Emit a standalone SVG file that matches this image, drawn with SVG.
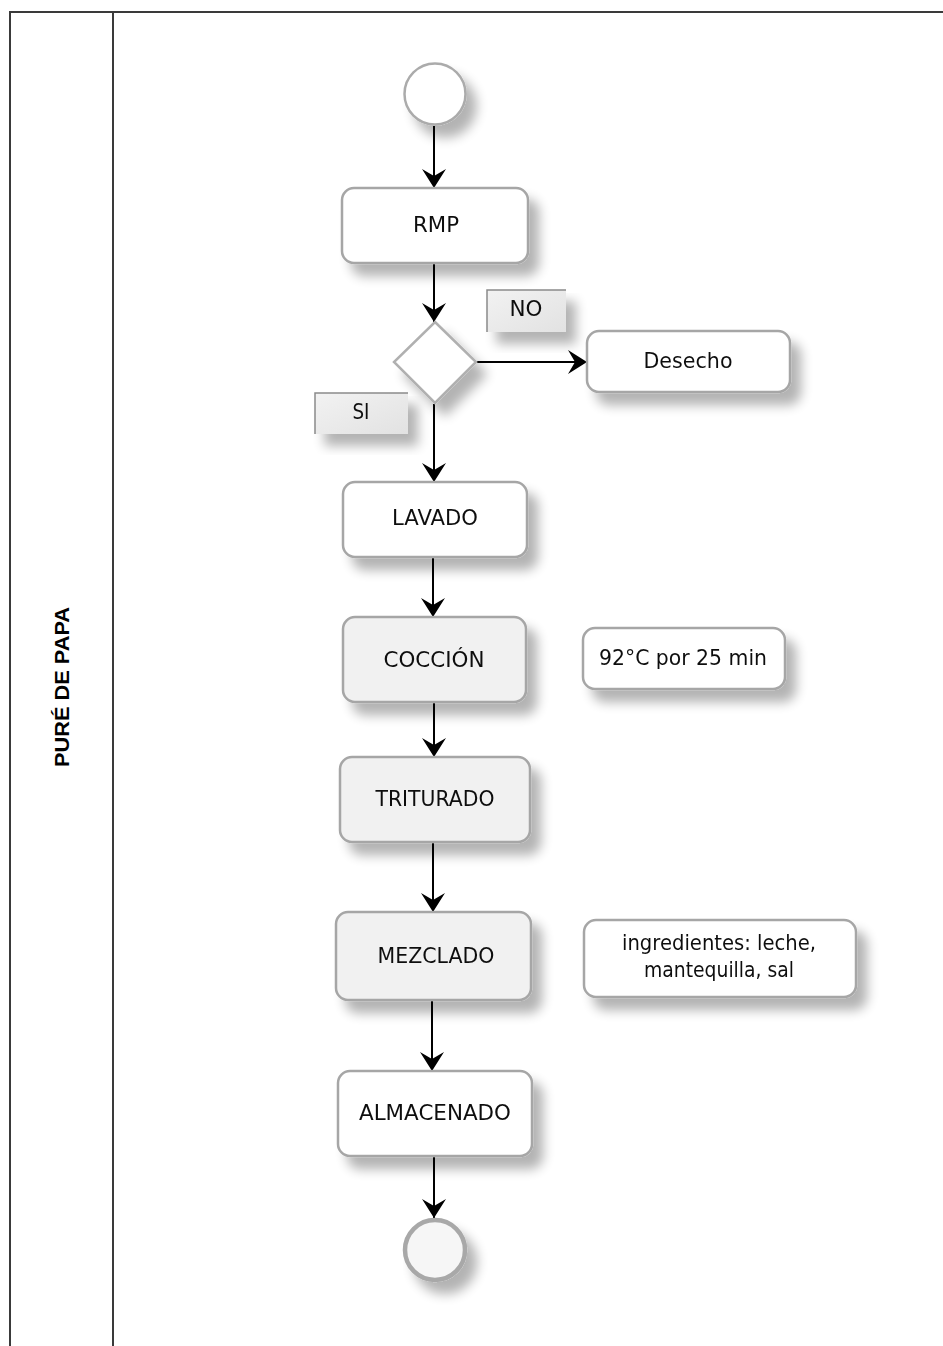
<svg xmlns="http://www.w3.org/2000/svg" width="943" height="1346" viewBox="0 0 943 1346">
<defs>
<filter id="sh" x="-20%" y="-20%" width="160%" height="170%">
<feGaussianBlur in="SourceAlpha" stdDeviation="6"/>
<feOffset dx="10" dy="12" result="b"/>
<feComponentTransfer><feFuncA type="linear" slope="0.3"/></feComponentTransfer>
<feMerge><feMergeNode/><feMergeNode in="SourceGraphic"/></feMerge>
</filter>
<linearGradient id="lbl" x1="0" y1="0" x2="1" y2="1">
<stop offset="0" stop-color="#f2f2f2"/>
<stop offset="1" stop-color="#e2e2e2"/>
</linearGradient>
<marker id="ah" markerUnits="userSpaceOnUse" markerWidth="24" markerHeight="26" refX="19" refY="12" orient="auto">
<path d="M0,0 L19,12 L0,24 L7,12 z" fill="#000"/>
</marker>
</defs>
<style>
.lane{stroke:#3a3a3a;stroke-width:2;fill:none}
.box{stroke:#a6a6a6;stroke-width:2.5;fill:#fff}
.gbox{stroke:#a6a6a6;stroke-width:2.5;fill:#f1f1f1}
.t{font-family:"DejaVu Sans","Liberation Sans",sans-serif;font-size:22px;fill:#111;text-anchor:middle}
.c{stroke:#000;stroke-width:2;fill:none;marker-end:url(#ah)}
.lb{fill:url(#lbl);stroke:none}
.lbe{stroke:#8a8a8a;stroke-width:1.5;fill:none}
</style>

<g id="lane">
<path class="lane" d="M10,1346 V12 H943"/>
<line class="lane" x1="113" y1="12" x2="113" y2="1346"/>
<text x="0" y="0" transform="translate(69,687) rotate(-90)" font-family="'Liberation Sans',Arial,sans-serif" font-weight="bold" font-size="20" text-anchor="middle" textLength="160" lengthAdjust="spacingAndGlyphs" fill="#000">PURÉ DE PAPA</text>
</g>

<g id="connectors">
<line class="c" x1="434" y1="126" x2="434" y2="188"/>
<line class="c" x1="434" y1="264" x2="434" y2="322"/>
<line class="c" x1="476" y1="362" x2="587" y2="362"/>
<line class="c" x1="434" y1="404" x2="434" y2="482"/>
<line class="c" x1="433" y1="557" x2="433" y2="617"/>
<line class="c" x1="434" y1="703" x2="434" y2="757"/>
<line class="c" x1="433" y1="843" x2="433" y2="912"/>
<line class="c" x1="432" y1="1001" x2="432" y2="1071"/>
<line class="c" x1="434" y1="1156" x2="434" y2="1218"/>
</g>

<g id="start" filter="url(#sh)">
<circle cx="435" cy="94" r="30.5" fill="#fff" stroke="#ababab" stroke-width="2.5"/>
</g>

<g id="rmp" filter="url(#sh)">
<rect class="box" x="342" y="188" width="186" height="75" rx="12"/>
<text class="t" x="436" y="232" textLength="46" lengthAdjust="spacingAndGlyphs">RMP</text>
</g>

<g id="decision" filter="url(#sh)">
<polygon points="435,322 476,362 435,403 394,362" fill="#fff" stroke="#b0b0b0" stroke-width="2.5"/>
</g>

<g id="label-no" filter="url(#sh)">
<rect class="lb" x="487" y="290" width="79" height="42"/>
<path class="lbe" d="M487,332 V290 H566"/>
<text class="t" x="526" y="316" textLength="33" lengthAdjust="spacingAndGlyphs">NO</text>
</g>

<g id="desecho" filter="url(#sh)">
<rect class="box" x="587" y="331" width="203" height="61" rx="12"/>
<text class="t" x="688" y="368" textLength="89" lengthAdjust="spacingAndGlyphs">Desecho</text>
</g>

<g id="label-si" filter="url(#sh)">
<rect class="lb" x="315" y="393" width="93" height="41"/>
<path class="lbe" d="M315,434 V393 H408"/>
<text class="t" x="361" y="419" textLength="17" lengthAdjust="spacingAndGlyphs">SI</text>
</g>

<g id="lavado" filter="url(#sh)">
<rect class="box" x="343" y="482" width="184" height="75" rx="12"/>
<text class="t" x="435" y="525" textLength="86" lengthAdjust="spacingAndGlyphs">LAVADO</text>
</g>

<g id="coccion" filter="url(#sh)">
<rect class="gbox" x="343" y="617" width="183" height="85" rx="12"/>
<text class="t" x="434" y="667" textLength="101" lengthAdjust="spacingAndGlyphs">COCCIÓN</text>
</g>

<g id="note-coccion" filter="url(#sh)">
<rect class="box" x="583" y="628" width="202" height="61" rx="12"/>
<text class="t" x="683" y="665" textLength="168" lengthAdjust="spacingAndGlyphs">92°C por 25 min</text>
</g>

<g id="triturado" filter="url(#sh)">
<rect class="gbox" x="340" y="757" width="190" height="85" rx="12"/>
<text class="t" x="435" y="806" textLength="119" lengthAdjust="spacingAndGlyphs">TRITURADO</text>
</g>

<g id="mezclado" filter="url(#sh)">
<rect class="gbox" x="336" y="912" width="195" height="88" rx="12"/>
<text class="t" x="436" y="963" textLength="117" lengthAdjust="spacingAndGlyphs">MEZCLADO</text>
</g>

<g id="note-mezclado" filter="url(#sh)">
<rect class="box" x="584" y="920" width="272" height="77" rx="12"/>
<text class="t" x="719" y="950" textLength="194" lengthAdjust="spacingAndGlyphs">ingredientes: leche,</text>
<text class="t" x="719" y="977" textLength="150" lengthAdjust="spacingAndGlyphs">mantequilla, sal</text>
</g>

<g id="almacenado" filter="url(#sh)">
<rect class="box" x="338" y="1071" width="194" height="85" rx="12"/>
<text class="t" x="435" y="1120" textLength="152" lengthAdjust="spacingAndGlyphs">ALMACENADO</text>
</g>

<g id="end" filter="url(#sh)">
<circle cx="435" cy="1250" r="30" fill="#f6f6f6" stroke="#a8a8a8" stroke-width="4.5"/>
</g>
</svg>
